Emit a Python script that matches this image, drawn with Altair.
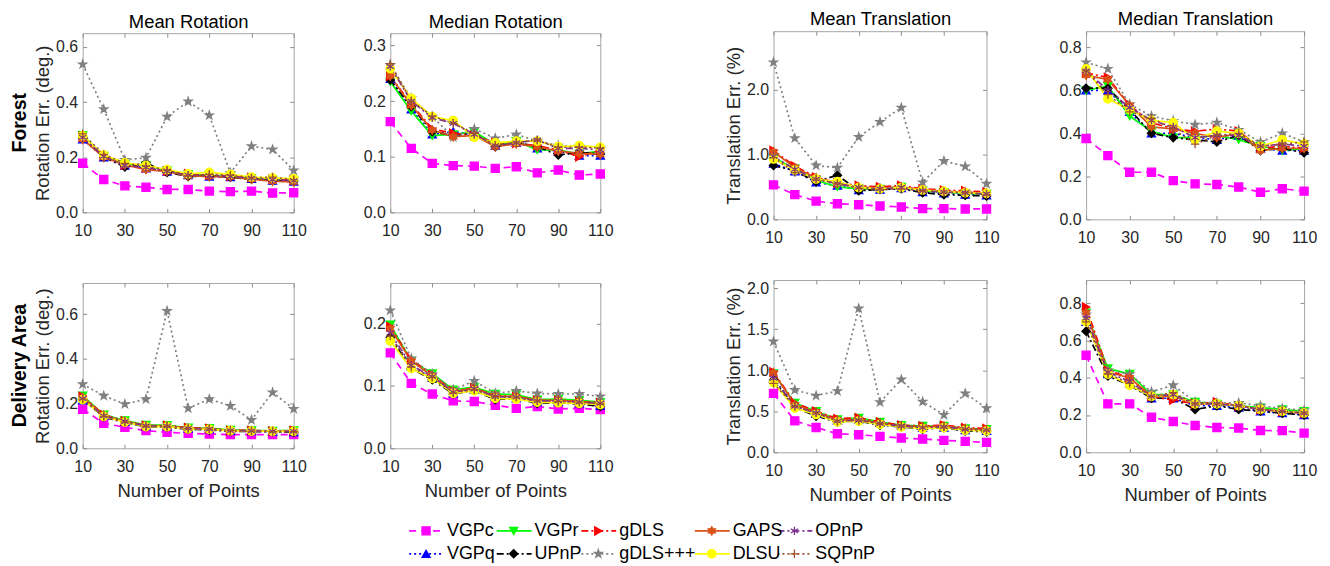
import altair as alt
import pandas as pd

X_POINTS = [10, 20, 30, 40, 50, 60, 70, 80, 90, 100, 110]
X_TICKS = [10, 30, 50, 70, 90, 110]
METHODS = ["VGPc", "VGPq", "VGPr", "UPnP", "gDLS", "gDLS+++", "GAPS", "DLSU", "OPnP", "SQPnP"]
LEGEND_ORDER = ["VGPc", "VGPr", "gDLS", "GAPS", "OPnP", "VGPq", "UPnP", "gDLS+++", "DLSU", "SQPnP"]

MEAN_ROT_FOREST = {
    "VGPc":    [0.178, 0.119, 0.096, 0.091, 0.083, 0.083, 0.077, 0.075, 0.077, 0.070, 0.071],
    "VGPq":    [0.265, 0.200, 0.170, 0.160, 0.148, 0.135, 0.130, 0.128, 0.122, 0.115, 0.112],
    "VGPr":    [0.280, 0.205, 0.175, 0.170, 0.152, 0.138, 0.133, 0.130, 0.124, 0.118, 0.114],
    "UPnP":    [0.270, 0.200, 0.165, 0.180, 0.145, 0.130, 0.132, 0.127, 0.120, 0.116, 0.113],
    "gDLS":    [0.275, 0.205, 0.172, 0.162, 0.150, 0.140, 0.135, 0.132, 0.126, 0.120, 0.118],
    "gDLS+++": [0.537, 0.374, 0.190, 0.198, 0.347, 0.402, 0.352, 0.143, 0.240, 0.228, 0.152],
    "GAPS":    [0.265, 0.200, 0.172, 0.155, 0.148, 0.132, 0.130, 0.128, 0.120, 0.113, 0.110],
    "DLSU":    [0.278, 0.208, 0.180, 0.170, 0.155, 0.140, 0.145, 0.138, 0.128, 0.125, 0.122],
    "OPnP":    [0.272, 0.203, 0.170, 0.163, 0.150, 0.135, 0.133, 0.130, 0.124, 0.118, 0.115],
    "SQPnP":   [0.285, 0.210, 0.178, 0.168, 0.153, 0.133, 0.138, 0.135, 0.125, 0.128, 0.118],
}

MEDIAN_ROT_FOREST = {
    "VGPc":    [0.163, 0.115, 0.088, 0.084, 0.083, 0.079, 0.082, 0.071, 0.076, 0.067, 0.069],
    "VGPq":    [0.240, 0.185, 0.140, 0.145, 0.140, 0.120, 0.125, 0.115, 0.110, 0.102, 0.102],
    "VGPr":    [0.235, 0.182, 0.138, 0.140, 0.145, 0.122, 0.128, 0.112, 0.112, 0.105, 0.110],
    "UPnP":    [0.238, 0.190, 0.145, 0.138, 0.142, 0.118, 0.126, 0.118, 0.103, 0.108, 0.105],
    "gDLS":    [0.245, 0.195, 0.150, 0.142, 0.138, 0.125, 0.124, 0.120, 0.112, 0.100, 0.112],
    "gDLS+++": [0.265, 0.205, 0.172, 0.135, 0.150, 0.133, 0.140, 0.128, 0.120, 0.118, 0.115],
    "GAPS":    [0.245, 0.192, 0.148, 0.136, 0.138, 0.118, 0.123, 0.118, 0.110, 0.106, 0.104],
    "DLSU":    [0.258, 0.205, 0.172, 0.165, 0.135, 0.125, 0.128, 0.128, 0.118, 0.120, 0.117],
    "OPnP":    [0.262, 0.200, 0.170, 0.160, 0.140, 0.120, 0.125, 0.130, 0.115, 0.115, 0.112],
    "SQPnP":   [0.267, 0.200, 0.173, 0.160, 0.142, 0.120, 0.125, 0.130, 0.117, 0.117, 0.116],
}

MEAN_TRANS_FOREST = {
    "VGPc":    [0.53, 0.38, 0.28, 0.24, 0.225, 0.205, 0.19, 0.165, 0.165, 0.16, 0.16],
    "VGPq":    [0.86, 0.74, 0.57, 0.52, 0.45, 0.46, 0.48, 0.42, 0.40, 0.38, 0.37],
    "VGPr":    [0.95, 0.78, 0.60, 0.50, 0.47, 0.47, 0.50, 0.44, 0.42, 0.40, 0.39],
    "UPnP":    [0.83, 0.75, 0.58, 0.68, 0.44, 0.46, 0.47, 0.41, 0.38, 0.37, 0.36],
    "gDLS":    [1.06, 0.82, 0.65, 0.56, 0.52, 0.50, 0.52, 0.47, 0.45, 0.44, 0.42],
    "gDLS+++": [2.42, 1.25, 0.83, 0.795, 1.27, 1.50, 1.72, 0.57, 0.90, 0.815, 0.55],
    "GAPS":    [1.04, 0.80, 0.64, 0.55, 0.50, 0.48, 0.50, 0.46, 0.43, 0.42, 0.40],
    "DLSU":    [0.93, 0.76, 0.62, 0.58, 0.49, 0.47, 0.49, 0.45, 0.43, 0.41, 0.40],
    "OPnP":    [0.97, 0.77, 0.62, 0.55, 0.49, 0.47, 0.49, 0.44, 0.42, 0.41, 0.39],
    "SQPnP":   [0.95, 0.72, 0.62, 0.55, 0.48, 0.46, 0.47, 0.44, 0.42, 0.41, 0.38],
}

MEDIAN_TRANS_FOREST = {
    "VGPc":    [0.376, 0.296, 0.219, 0.219, 0.180, 0.165, 0.162, 0.150, 0.126, 0.142, 0.131],
    "VGPq":    [0.60, 0.60, 0.50, 0.40, 0.40, 0.38, 0.37, 0.39, 0.33, 0.32, 0.32],
    "VGPr":    [0.60, 0.62, 0.48, 0.41, 0.38, 0.38, 0.39, 0.37, 0.34, 0.32, 0.33],
    "UPnP":    [0.61, 0.61, 0.51, 0.40, 0.38, 0.37, 0.36, 0.39, 0.32, 0.33, 0.31],
    "gDLS":    [0.68, 0.66, 0.53, 0.45, 0.42, 0.41, 0.42, 0.41, 0.33, 0.34, 0.33],
    "gDLS+++": [0.73, 0.70, 0.535, 0.48, 0.458, 0.44, 0.45, 0.416, 0.36, 0.40, 0.36],
    "GAPS":    [0.67, 0.65, 0.53, 0.43, 0.42, 0.40, 0.38, 0.40, 0.32, 0.33, 0.33],
    "DLSU":    [0.70, 0.56, 0.51, 0.46, 0.45, 0.37, 0.41, 0.40, 0.34, 0.37, 0.35],
    "OPnP":    [0.69, 0.60, 0.52, 0.46, 0.43, 0.38, 0.39, 0.39, 0.34, 0.35, 0.34],
    "SQPnP":   [0.69, 0.58, 0.50, 0.47, 0.42, 0.35, 0.39, 0.40, 0.34, 0.35, 0.36],
}

MEAN_ROT_DELIVERY = {
    "VGPc":    [0.175, 0.112, 0.094, 0.079, 0.071, 0.067, 0.064, 0.061, 0.061, 0.061, 0.061],
    "VGPq":    [0.215, 0.145, 0.118, 0.098, 0.098, 0.088, 0.085, 0.078, 0.077, 0.075, 0.073],
    "VGPr":    [0.235, 0.150, 0.125, 0.104, 0.103, 0.092, 0.090, 0.082, 0.080, 0.078, 0.080],
    "UPnP":    [0.220, 0.140, 0.115, 0.096, 0.095, 0.085, 0.082, 0.076, 0.075, 0.074, 0.072],
    "gDLS":    [0.232, 0.150, 0.122, 0.102, 0.102, 0.092, 0.088, 0.080, 0.080, 0.077, 0.080],
    "gDLS+++": [0.287, 0.235, 0.198, 0.220, 0.615, 0.179, 0.220, 0.190, 0.127, 0.250, 0.176],
    "GAPS":    [0.228, 0.148, 0.120, 0.100, 0.100, 0.090, 0.087, 0.080, 0.078, 0.076, 0.077],
    "DLSU":    [0.218, 0.143, 0.117, 0.097, 0.097, 0.087, 0.085, 0.079, 0.077, 0.076, 0.076],
    "OPnP":    [0.222, 0.145, 0.120, 0.100, 0.099, 0.089, 0.086, 0.079, 0.078, 0.076, 0.076],
    "SQPnP":   [0.220, 0.143, 0.118, 0.099, 0.098, 0.088, 0.086, 0.079, 0.077, 0.075, 0.075],
}

MEDIAN_ROT_DELIVERY = {
    "VGPc":    [0.153, 0.104, 0.087, 0.076, 0.075, 0.069, 0.064, 0.067, 0.063, 0.064, 0.062],
    "VGPq":    [0.180, 0.132, 0.113, 0.088, 0.094, 0.082, 0.080, 0.074, 0.074, 0.072, 0.068],
    "VGPr":    [0.198, 0.140, 0.120, 0.094, 0.098, 0.087, 0.086, 0.078, 0.079, 0.077, 0.074],
    "UPnP":    [0.178, 0.128, 0.110, 0.087, 0.093, 0.078, 0.080, 0.072, 0.073, 0.071, 0.067],
    "gDLS":    [0.195, 0.142, 0.118, 0.092, 0.097, 0.084, 0.083, 0.077, 0.077, 0.075, 0.073],
    "gDLS+++": [0.221, 0.144, 0.119, 0.094, 0.108, 0.088, 0.092, 0.088, 0.087, 0.087, 0.083],
    "GAPS":    [0.192, 0.140, 0.116, 0.091, 0.096, 0.084, 0.083, 0.077, 0.077, 0.075, 0.072],
    "DLSU":    [0.172, 0.128, 0.112, 0.088, 0.092, 0.080, 0.079, 0.074, 0.073, 0.072, 0.070],
    "OPnP":    [0.185, 0.133, 0.115, 0.090, 0.095, 0.083, 0.082, 0.076, 0.076, 0.074, 0.072],
    "SQPnP":   [0.180, 0.130, 0.114, 0.089, 0.094, 0.083, 0.082, 0.076, 0.075, 0.074, 0.071],
}

MEAN_TRANS_DELIVERY = {
    "VGPc":    [0.718, 0.383, 0.302, 0.226, 0.214, 0.194, 0.173, 0.161, 0.145, 0.133, 0.120],
    "VGPq":    [0.90, 0.57, 0.47, 0.39, 0.40, 0.36, 0.33, 0.30, 0.30, 0.27, 0.26],
    "VGPr":    [0.96, 0.60, 0.50, 0.40, 0.42, 0.37, 0.33, 0.32, 0.32, 0.29, 0.28],
    "UPnP":    [0.88, 0.55, 0.44, 0.37, 0.38, 0.33, 0.31, 0.28, 0.30, 0.26, 0.25],
    "gDLS":    [0.98, 0.60, 0.50, 0.41, 0.42, 0.37, 0.33, 0.32, 0.33, 0.30, 0.29],
    "gDLS+++": [1.35, 0.76, 0.69, 0.746, 1.754, 0.61, 0.887, 0.617, 0.456, 0.718, 0.536],
    "GAPS":    [0.97, 0.58, 0.49, 0.39, 0.40, 0.35, 0.32, 0.31, 0.32, 0.29, 0.27],
    "DLSU":    [0.85, 0.54, 0.46, 0.37, 0.38, 0.34, 0.31, 0.29, 0.30, 0.27, 0.26],
    "OPnP":    [0.90, 0.56, 0.48, 0.38, 0.39, 0.35, 0.32, 0.30, 0.31, 0.28, 0.27],
    "SQPnP":   [0.84, 0.56, 0.48, 0.38, 0.39, 0.35, 0.32, 0.31, 0.31, 0.28, 0.27],
}

MEDIAN_TRANS_DELIVERY = {
    "VGPc":    [0.521, 0.260, 0.260, 0.188, 0.165, 0.144, 0.133, 0.130, 0.117, 0.116, 0.103],
    "VGPq":    [0.70, 0.42, 0.37, 0.29, 0.29, 0.25, 0.25, 0.24, 0.22, 0.21, 0.20],
    "VGPr":    [0.75, 0.45, 0.42, 0.31, 0.31, 0.27, 0.26, 0.25, 0.24, 0.23, 0.22],
    "UPnP":    [0.65, 0.41, 0.36, 0.29, 0.29, 0.23, 0.25, 0.23, 0.22, 0.21, 0.20],
    "gDLS":    [0.78, 0.44, 0.40, 0.30, 0.28, 0.26, 0.27, 0.25, 0.23, 0.22, 0.21],
    "gDLS+++": [0.74, 0.44, 0.42, 0.325, 0.36, 0.27, 0.265, 0.265, 0.25, 0.235, 0.225],
    "GAPS":    [0.75, 0.43, 0.40, 0.30, 0.30, 0.26, 0.26, 0.25, 0.23, 0.22, 0.21],
    "DLSU":    [0.70, 0.42, 0.36, 0.30, 0.31, 0.26, 0.26, 0.25, 0.23, 0.22, 0.21],
    "OPnP":    [0.72, 0.43, 0.38, 0.30, 0.31, 0.26, 0.26, 0.25, 0.23, 0.22, 0.21],
    "SQPnP":   [0.70, 0.42, 0.37, 0.30, 0.32, 0.26, 0.26, 0.25, 0.23, 0.22, 0.21],
}

# ---- styles (MATLAB-like) ----
STAR = ("M0,-1L0.225,-0.309L0.951,-0.309L0.363,0.118L0.588,0.809L0,0.382"
        "L-0.588,0.809L-0.363,0.118L-0.951,-0.309L-0.225,-0.309Z")
HEXAGRAM = ("M0,-1L0.289,-0.5L0.866,-0.5L0.577,0L0.866,0.5L0.289,0.5L0,1"
            "L-0.289,0.5L-0.866,0.5L-0.577,0L-0.866,-0.5L-0.289,-0.5Z")
ASTERISK = "M0,-1L0,1M-0.87,-0.5L0.87,0.5M-0.87,0.5L0.87,-0.5"
PLUS = "M-1,0L1,0M0,-1L0,1"

COLORS = ["#ff00ff", "#0000ff", "#00ff00", "#000000", "#ff0000",
          "#808080", "#d95319", "#ffff00", "#7e2f8e", "#a2522d"]
DASHES = [[7, 5], [2, 3], [1, 0], [7, 3, 2, 3], [7, 3, 2, 3],
          [2, 3], [1, 0], [1, 0], [7, 3, 2, 3], [2, 3]]
SHAPES = ["square", "triangle-up", "triangle-down", "diamond", "triangle-right",
          STAR, HEXAGRAM, "circle", ASTERISK, PLUS]
SIZES = [66, 72, 72, 66, 72, 230, 160, 36, 60, 85]

FONT = "Liberation Sans"
AX_COLOR = "#262626"
TICK_COLOR = "#8c8c8c"
TITLE_SIZE = 18.5


def enc_color():
    return alt.Color("method:N", scale=alt.Scale(domain=METHODS, range=COLORS), legend=None)


def enc_stroke():
    return alt.Stroke("method:N", scale=alt.Scale(domain=METHODS, range=COLORS), legend=None)


def enc_dash():
    return alt.StrokeDash("method:N", scale=alt.Scale(domain=METHODS, range=DASHES), legend=None)


def enc_shape():
    return alt.Shape("method:N", scale=alt.Scale(domain=METHODS, range=SHAPES), legend=None)


def enc_size():
    return alt.Size("idx:O", scale=alt.Scale(domain=list(range(len(METHODS))), range=SIZES), legend=None)


def to_frame(values):
    rows = []
    for i, m in enumerate(METHODS):
        for x, v in zip(X_POINTS, values[m]):
            rows.append({"points": x, "err": v, "method": m, "idx": i})
    return pd.DataFrame(rows)


def panel(values, ymax, yticks, w, h, header=None, header_pad=3, ytitle=None,
          xtitle=None, rowlabel=None):
    df = to_frame(values)
    xscale = alt.Scale(domain=[10, 110], nice=False, zero=False)
    yscale = alt.Scale(domain=[0, ymax], nice=False, zero=False)
    y = alt.Y("err:Q", scale=yscale, axis=alt.Axis(
        values=yticks, format=".1f", title=ytitle, titlePadding=3, labelPadding=5,
        ticks=False, tickSize=0, domain=False, grid=True, gridColor=TICK_COLOR,
        gridDash=[4, w - 8, 4, 4000], labelFlush=False, labelOverlap=False))
    x_bottom = alt.X("points:Q", scale=xscale, axis=alt.Axis(
        values=X_TICKS, title=xtitle, titlePadding=7, labelPadding=10,
        ticks=False, tickSize=0, domain=False, grid=True, gridColor=TICK_COLOR,
        gridDash=[4, h - 8, 4, 4000], labelFlush=False, labelOverlap=False))
    if header is not None:
        top_axis = alt.Axis(orient="top", labels=False, ticks=False, tickSize=0,
                            domain=False, grid=False, title=header, titlePadding=header_pad,
                            titleFontSize=TITLE_SIZE, titleColor="black")
    else:
        top_axis = None
    x_top = alt.X("points:Q", scale=xscale, axis=top_axis)

    lines = alt.Chart(df).mark_line(strokeWidth=1.7).encode(
        x=x_bottom, y=y, color=enc_color(), strokeDash=enc_dash(),
        detail="method:N")
    pts = alt.Chart(df).mark_point(filled=True, opacity=1, strokeWidth=1.3).encode(
        x=x_top, y=y, color=enc_color(), stroke=enc_stroke(), shape=enc_shape(),
        size=enc_size())
    ch = alt.layer(lines, pts).resolve_axis(x="independent").properties(width=w, height=h)
    if rowlabel:
        ch = ch.properties(title=alt.TitleParams(
            text=rowlabel, orient="left", anchor="middle", frame="group",
            fontSize=19.5, fontWeight="bold", color="black", font=FONT, offset=3))
    return ch


def spacer(h):
    # invisible block that only reserves vertical room above a column of panels
    return alt.Chart(pd.DataFrame({"v": [0]})).mark_point(size=1, opacity=0).encode(
        x=alt.X("v:Q", scale=alt.Scale(domain=[0, 1]), axis=None),
        y=alt.Y("v:Q", scale=alt.Scale(domain=[0, 1]), axis=None),
    ).properties(width=10, height=h, view=alt.ViewBackground(stroke="transparent"))


W = [212, 211, 214, 219]
H_TOP_L, H_TOP_R = 180, 189
H_BOT_L, H_BOT_R = 166, 173

p1 = panel(MEAN_ROT_FOREST, 0.65, [0, 0.2, 0.4, 0.6], W[0], H_TOP_L, header="Mean Rotation",
           header_pad=2, ytitle="Rotation Err. (deg.)", rowlabel="Forest")
p2 = panel(MEDIAN_ROT_FOREST, 0.322, [0, 0.1, 0.2, 0.3], W[1], H_TOP_L,
           header="Median Rotation", header_pad=2)
p3 = panel(MEAN_TRANS_FOREST, 2.9, [0, 1, 2], W[2], H_TOP_R, header="Mean Translation",
           header_pad=3, ytitle="Translation Err. (%)")
p4 = panel(MEDIAN_TRANS_FOREST, 0.875, [0, 0.2, 0.4, 0.6, 0.8], W[3], H_TOP_R,
           header="Median Translation", header_pad=3)

p5 = panel(MEAN_ROT_DELIVERY, 0.74, [0, 0.2, 0.4, 0.6], W[0], H_BOT_L,
           ytitle="Rotation Err. (deg.)", xtitle="Number of Points", rowlabel="Delivery Area")
p6 = panel(MEDIAN_ROT_DELIVERY, 0.265, [0, 0.1, 0.2], W[1], H_BOT_L,
           xtitle="Number of Points")
p7 = panel(MEAN_TRANS_DELIVERY, 2.1, [0, 0.5, 1.0, 1.5, 2.0], W[2], H_BOT_R,
           ytitle="Translation Err. (%)", xtitle="Number of Points")
p8 = panel(MEDIAN_TRANS_DELIVERY, 0.925, [0, 0.2, 0.4, 0.6, 0.8], W[3], H_BOT_R,
           xtitle="Number of Points")

left_block = alt.vconcat(
    alt.vconcat(spacer(4), alt.hconcat(p1, p2, spacing=55), spacing=0),
    alt.hconcat(p5, p6, spacing=55), spacing=43)
right_block = alt.vconcat(
    alt.vconcat(spacer(1), alt.hconcat(p3, p4, spacing=58), spacing=0),
    alt.hconcat(p7, p8, spacing=58), spacing=33)
panels = alt.hconcat(left_block, right_block, spacing=110)

# ---- legend (drawn as a small chart) ----
LEG_COL_X = [328, 416, 501, 615, 698]
leg_df = pd.DataFrame({
    "method": LEGEND_ORDER,
    "col": [0, 1, 2, 3, 4, 0, 1, 2, 3, 4],
    "row": [0, 0, 0, 0, 0, 1, 1, 1, 1, 1],
    "idx": [METHODS.index(m) for m in LEGEND_ORDER],
})
lx = alt.X("col:Q", scale=alt.Scale(domain=[0, 1, 2, 3, 4], range=LEG_COL_X), axis=None)
ly = alt.Y("row:Q", scale=alt.Scale(domain=[0, 1], range=[0, 23]), axis=None)
leg_base = alt.Chart(leg_df)
leg_lines = leg_base.mark_rule(strokeWidth=1.7, x2Offset=35).encode(
    x=lx, x2=alt.X2("col:Q"), y=ly, color=enc_color(), strokeDash=enc_dash())
leg_pts = leg_base.mark_point(filled=True, opacity=1, strokeWidth=1.3, xOffset=17).encode(
    x=lx, y=ly, color=enc_color(), stroke=enc_stroke(), shape=enc_shape(), size=enc_size())
leg_text = leg_base.mark_text(align="left", baseline="middle", dx=38, fontSize=18,
                              color="black", font=FONT).encode(x=lx, y=ly, text="method:N")
legend = alt.layer(leg_lines, leg_pts, leg_text).properties(
    width=900, height=23, view=alt.ViewBackground(stroke="transparent"))

chart = alt.vconcat(panels, legend, spacing=17).properties(
    padding={"left": 1, "top": -4, "right": 4, "bottom": 4}
).configure(font=FONT).configure_view(
    stroke="#a6a6a6", strokeWidth=1
).configure_axis(
    labelFont=FONT, titleFont=FONT, labelFontSize=16, titleFontSize=TITLE_SIZE,
    labelColor=AX_COLOR, titleColor=AX_COLOR, titleFontWeight="normal"
)

chart.save("out.html", embed_options={"renderer": "svg", "actions": False})
